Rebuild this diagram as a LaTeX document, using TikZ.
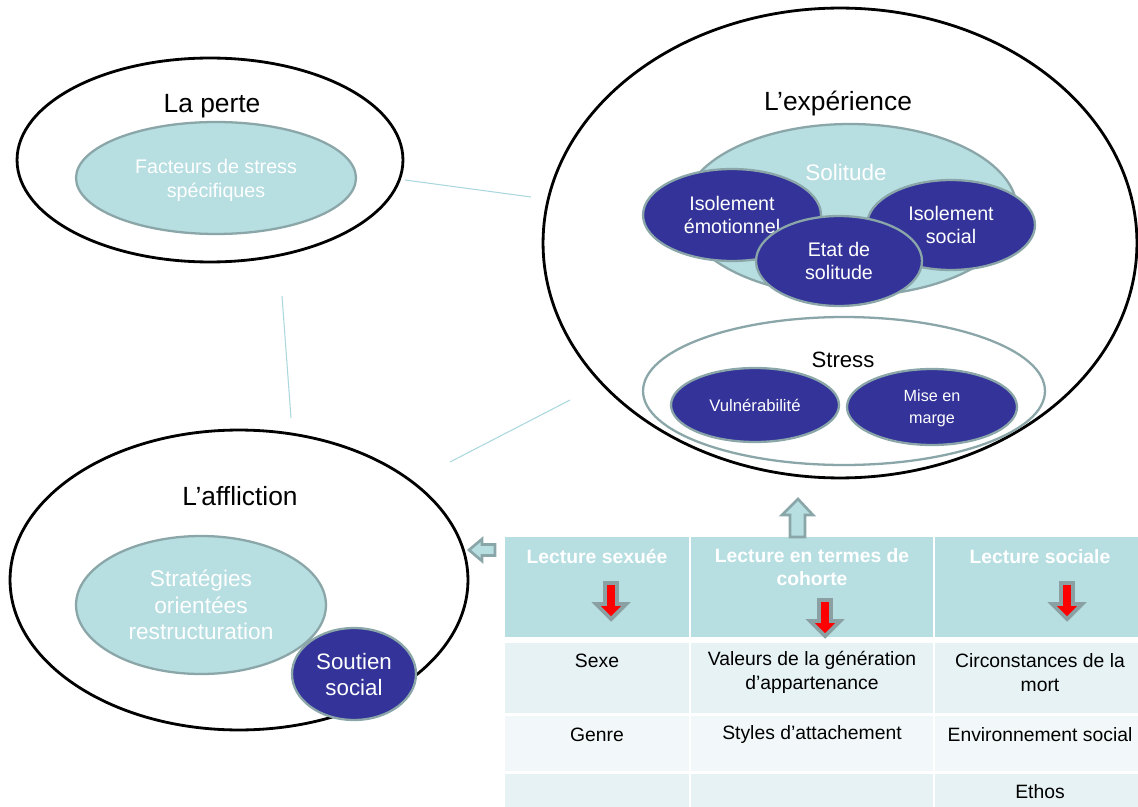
\documentclass[tikz,border=0pt]{standalone}
\usepackage{fontspec}
\setmainfont{Liberation Sans}
\usetikzlibrary{shapes.geometric}
\definecolor{tealfill}{RGB}{183,222,225}
\definecolor{tealborder}{RGB}{138,166,168}
\definecolor{darkblue}{RGB}{51,51,153}
\definecolor{connline}{RGB}{170,216,222}
\definecolor{rowa}{RGB}{230,242,244}
\definecolor{rowb}{RGB}{242,248,249}
\definecolor{arrowgray}{RGB}{138,160,162}
\begin{document}
\begin{tikzpicture}[x=0.02cm,y=-0.02cm,
  bigell/.style={ellipse, draw=black, line width=1.6pt, inner sep=0pt, fill=white},
  lightell/.style={ellipse, draw=tealborder, fill=tealfill, line width=1.3pt, inner sep=0pt, text=white, align=center, text depth=0pt},
  darkell/.style={ellipse, draw=tealborder, fill=darkblue, line width=1.3pt, inner sep=0pt, text=white, align=center, text depth=0pt},
  title/.style={font=\fontsize{15}{18}\selectfont, text=black, yshift=-0.05cm},
  conn/.style={draw=connline, line width=0.6pt},
  cell/.style={rectangle, draw=none, inner sep=0pt, anchor=north west},
  headtxt/.style={font=\fontsize{11}{13.1}\selectfont\bfseries, text=white, align=center, yshift=-0.03cm},
  bodytxt/.style={font=\fontsize{11}{13.7}\selectfont, text=black, align=center, yshift=-0.03cm},
  blockarrow/.style={fill=tealfill, draw=tealborder, line width=1.5pt, line join=miter},
  redarrow/.style={fill=red, draw=arrowgray, line width=2.2pt, line join=miter}
]
\useasboundingbox (0,0) rectangle (1138,807);

% free ends of the connector lines
\coordinate (c1a) at (405,180);
\coordinate (c1b) at (531,197);
\coordinate (c2a) at (282,296);
\coordinate (c2b) at (291,418);
\coordinate (c3a) at (570,400);
\coordinate (c3b) at (450,462);

% La perte
\node[bigell, minimum width=7.72cm, minimum height=4.08cm] (perte) at (210,160) {};
\node[title] (perteT) at (212,104) {La perte};
\node[lightell, minimum width=5.6cm, minimum height=2.24cm,
      font=\fontsize{11.2}{13.7}\selectfont] (facteurs) at (216,178) {Facteurs de stress\\spécifiques};

% L'expérience
\node[bigell, minimum width=11.88cm, minimum height=9.4cm] (exp) at (840,243) {};
\node[title] (expT) at (838,101) {L’expérience};
\node[lightell, minimum width=6.68cm, minimum height=3.44cm] (solitude) at (850,210) {};
\node[font=\fontsize{12.8}{15}\selectfont, text=white, yshift=-0.04cm] (solT) at (846,170) {Solitude};
\node[darkell, minimum width=3.56cm, minimum height=1.84cm,
      font=\fontsize{11.2}{13.1}\selectfont] (isoemo) at (732,215) {Isolement\\émotionnel};
\node[darkell, minimum width=3.36cm, minimum height=1.8cm,
      font=\fontsize{11.2}{13.1}\selectfont] (isosoc) at (951,225) {Isolement\\social};
\node[darkell, minimum width=3.32cm, minimum height=1.8cm,
      font=\fontsize{11.2}{13.1}\selectfont] (etat) at (839,261) {Etat de\\solitude};
\node[ellipse, draw=tealborder, fill=white, line width=1.3pt, inner sep=0pt,
      minimum width=8.04cm, minimum height=2.96cm] (stress) at (844,391) {};
\node[font=\fontsize{12.6}{15}\selectfont, yshift=-0.04cm] (stressT) at (843,358) {Stress};
\node[darkell, minimum width=3.36cm, minimum height=1.48cm,
      font=\fontsize{9.5}{12}\selectfont] (vuln) at (755,405) {Vulnérabilité};
\node[darkell, minimum width=3.4cm, minimum height=1.52cm,
      font=\fontsize{9.2}{12.5}\selectfont] (mise) at (932,407) {Mise en\\marge};

% L'affliction
\node[bigell, minimum width=9.16cm, minimum height=6.0cm] (affl) at (239,580) {};
\node[title] (afflT) at (240,494) {L’affliction};
\node[lightell, minimum width=5.0cm, minimum height=2.76cm,
      font=\fontsize{12.9}{15.1}\selectfont] (strat) at (201,605) {Stratégies\\orientées\\restructuration};
\node[darkell, minimum width=2.48cm, minimum height=1.84cm,
      font=\fontsize{12.7}{14.8}\selectfont] (soutien) at (354,674) {Soutien\\social};

% connectors
\draw[conn] (c1a) -- (c1b);
\draw[conn] (c2a) -- (c2b);
\draw[conn] (c3a) -- (c3b);

% table cells
\node[cell, fill=tealfill, minimum width=3.68cm, minimum height=2.0cm] (h1) at (505,537) {};
\node[cell, fill=tealfill, minimum width=4.84cm, minimum height=2.0cm] (h2) at (691,537) {};
\node[cell, fill=tealfill, minimum width=4.06cm, minimum height=2.0cm] (h3) at (935,537) {};
\node[cell, fill=rowa, minimum width=3.68cm, minimum height=1.4cm] (r1a) at (505,643) {};
\node[cell, fill=rowa, minimum width=4.84cm, minimum height=1.4cm] (r1b) at (691,643) {};
\node[cell, fill=rowa, minimum width=4.06cm, minimum height=1.4cm] (r1c) at (935,643) {};
\node[cell, fill=rowb, minimum width=3.68cm, minimum height=1.1cm] (r2a) at (505,716) {};
\node[cell, fill=rowb, minimum width=4.84cm, minimum height=1.1cm] (r2b) at (691,716) {};
\node[cell, fill=rowb, minimum width=4.06cm, minimum height=1.1cm] (r2c) at (935,716) {};
\node[cell, fill=rowa, minimum width=3.68cm, minimum height=0.66cm] (r3a) at (505,774) {};
\node[cell, fill=rowa, minimum width=4.84cm, minimum height=0.66cm] (r3b) at (691,774) {};
\node[cell, fill=rowa, minimum width=4.06cm, minimum height=0.66cm] (r3c) at (935,774) {};

% table text
\node[headtxt] (h1t) at (597,555) {Lecture sexuée};
\node[headtxt] (h2t) at (812,566) {Lecture en termes de\\cohorte};
\node[headtxt] (h3t) at (1040,555) {Lecture sociale};
\node[bodytxt] (t11) at (597,659) {Sexe};
\node[bodytxt] (t12) at (812,671) {Valeurs de la génération\\d’appartenance};
\node[bodytxt] (t13) at (1040,671) {Circonstances de la\\mort};
\node[bodytxt] (t21) at (597,733) {Genre};
\node[bodytxt] (t22) at (812,733) {Styles d’attachement};
\node[bodytxt] (t23) at (1040,733) {Environnement social};
\node[bodytxt] (t33) at (1040,790) {Ethos};

% red arrows
\foreach \cx/\ty in {611/583, 825/600, 1067/583}{
  \draw[redarrow] (\cx-6,\ty) -- (\cx+6,\ty) -- (\cx+6,\ty+21) -- (\cx+15,\ty+21)
     -- (\cx,\ty+36) -- (\cx-15,\ty+21) -- (\cx-6,\ty+21) -- cycle;
}

% block arrows
\draw[blockarrow] (469,550) -- (482,539) -- (482,544.5) -- (495,544.5) -- (495,555.5)
   -- (482,555.5) -- (482,561) -- cycle;
\draw[blockarrow] (798,499) -- (813,515) -- (805,515) -- (805,537) -- (790,537)
   -- (790,515) -- (782,515) -- cycle;
\end{tikzpicture}
\end{document}
